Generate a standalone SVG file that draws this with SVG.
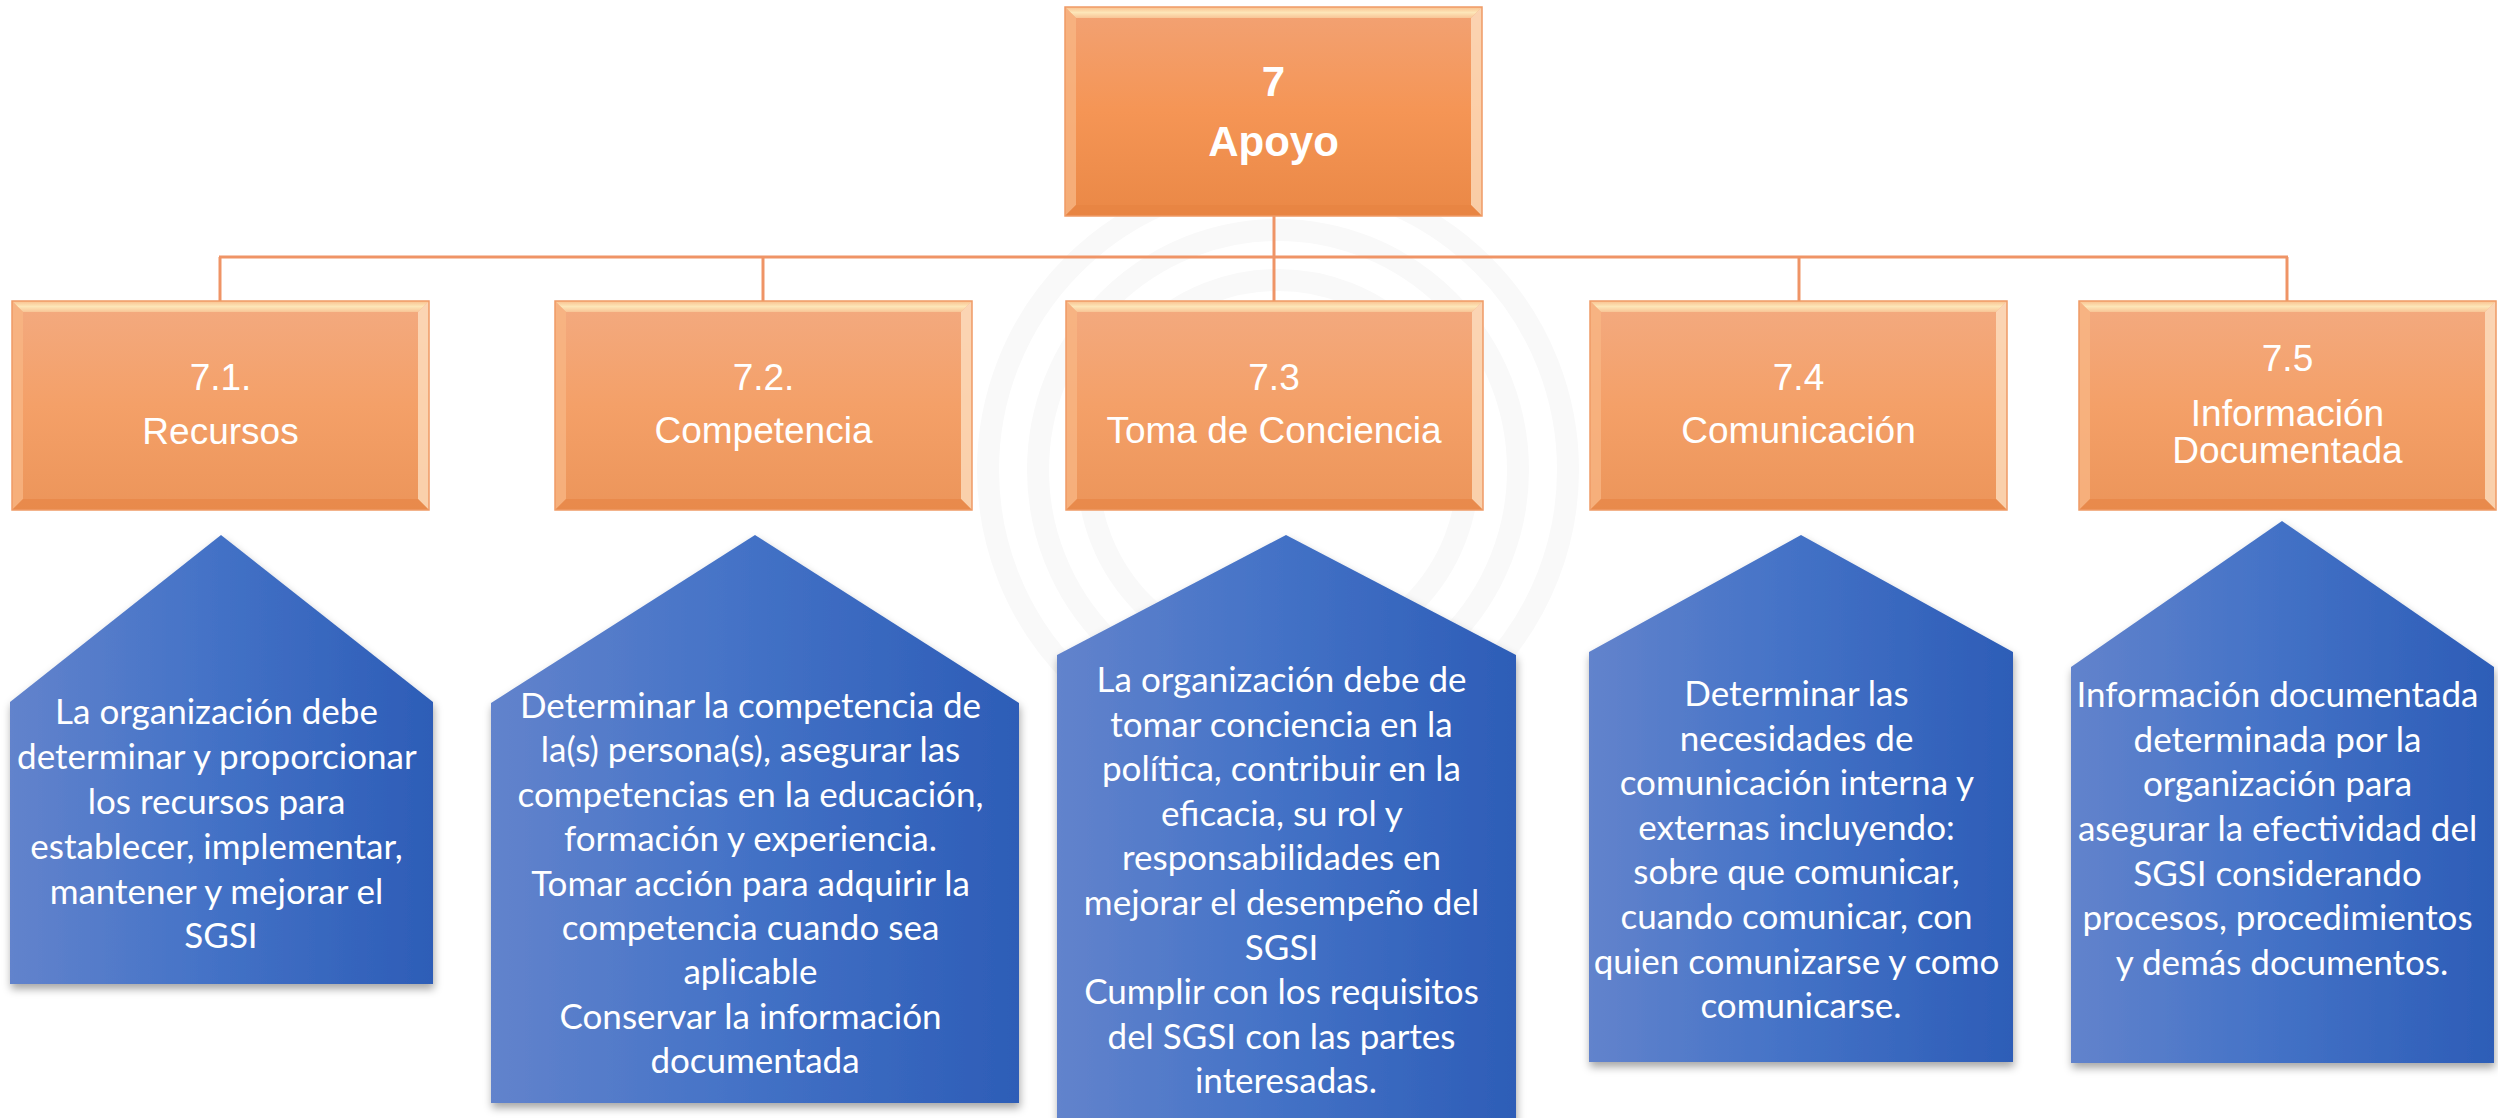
<svg xmlns="http://www.w3.org/2000/svg" width="2498" height="1118" viewBox="0 0 2498 1118">
<style>
.lbl{font-family:"Liberation Sans",Arial,sans-serif;font-size:37px;fill:#ffffff;text-anchor:middle}
.top{font-family:"Liberation Sans",Arial,sans-serif;font-size:42px;font-weight:bold;fill:#ffffff;text-anchor:middle}
.desc{font-family:Lato,"Open Sans",sans-serif;font-size:35px;fill:#ffffff;text-anchor:middle}
.conn{stroke:#ef9466;stroke-width:3;fill:none}
.wm{fill:none;stroke:#f9f9f9;stroke-width:22}
.pent{fill:url(#blueGrad);filter:url(#shadow)}
</style>
<defs>
<linearGradient id="orGrad" x1="0" y1="0" x2="0" y2="1">
<stop offset="0" stop-color="#f3aa80"/>
<stop offset="0.5" stop-color="#f4a068"/>
<stop offset="1" stop-color="#ec955a"/>
</linearGradient>
<linearGradient id="orGradTop" x1="0" y1="0" x2="0" y2="1">
<stop offset="0" stop-color="#f2a274"/>
<stop offset="0.5" stop-color="#f59555"/>
<stop offset="1" stop-color="#ea8846"/>
</linearGradient>
<linearGradient id="bevTop" x1="0" y1="0" x2="0" y2="1">
<stop offset="0" stop-color="#f9c08e"/>
<stop offset="0.5" stop-color="#fde6b8"/>
<stop offset="1" stop-color="#f8c596"/>
</linearGradient>
<linearGradient id="blueGrad" x1="0" y1="0" x2="1" y2="0">
<stop offset="0" stop-color="#6283cc"/>
<stop offset="0.45" stop-color="#4573c7"/>
<stop offset="1" stop-color="#2d5db7"/>
</linearGradient>
<filter id="shadow" x="-10%" y="-10%" width="120%" height="125%">
<feDropShadow dx="1" dy="5" stdDeviation="4" flood-color="#000000" flood-opacity="0.35"/>
</filter>
<symbol id="bevel" viewBox="0 0 417 209" width="417" height="209" overflow="visible">
<polygon points="0,0 417,0 406,11 11,11" fill="url(#bevTop)"/>
<polygon points="0,0 11,11 11,198 0,209" fill="#f8b583" opacity="0.8"/>
<polygon points="417,0 417,209 406,198 406,11" fill="#fde3c6" opacity="0.75"/>
<polygon points="0,209 11,198 406,198 417,209" fill="#e5823f" opacity="0.55"/>
<rect x="0" y="0" width="417" height="209" fill="none" stroke="#ef9a66" stroke-width="1.5"/>
</symbol>
</defs>
<rect width="2498" height="1118" fill="#ffffff"/>
<g id="watermark">
<circle class="wm" cx="1278" cy="470" r="290"/>
<circle class="wm" cx="1278" cy="470" r="240"/>
<circle class="wm" cx="1278" cy="470" r="190"/>
</g>
<g id="connectors">
<line class="conn" x1="1274" y1="216" x2="1274" y2="257"/>
<line class="conn" x1="219" y1="257" x2="2288" y2="257"/>
<line class="conn" x1="220" y1="257" x2="220" y2="301"/>
<line class="conn" x1="763" y1="257" x2="763" y2="301"/>
<line class="conn" x1="1274" y1="257" x2="1274" y2="301"/>
<line class="conn" x1="1799" y1="257" x2="1799" y2="301"/>
<line class="conn" x1="2287" y1="257" x2="2287" y2="301"/>
</g>
<g id="node-7">
<rect x="1065" y="7" width="417" height="209" fill="url(#orGradTop)"/>
<use href="#bevel" x="1065" y="7"/>
<text class="top" x="1273.5" y="96">7</text>
<text class="top" x="1273.5" y="156">Apoyo</text>
</g>
<g id="node-7-1">
<rect x="12" y="301" width="417" height="209" fill="url(#orGrad)"/>
<use href="#bevel" x="12" y="301"/>
<text class="lbl" x="220.5" y="390">7.1.</text>
<text class="lbl" x="220.5" y="444">Recursos</text>
</g>
<g id="node-7-2">
<rect x="555" y="301" width="417" height="209" fill="url(#orGrad)"/>
<use href="#bevel" x="555" y="301"/>
<text class="lbl" x="763.5" y="390">7.2.</text>
<text class="lbl" x="763.5" y="443">Competencia</text>
</g>
<g id="node-7-3">
<rect x="1066" y="301" width="417" height="209" fill="url(#orGrad)"/>
<use href="#bevel" x="1066" y="301"/>
<text class="lbl" x="1274" y="390">7.3</text>
<text class="lbl" x="1274" y="443">Toma de Conciencia</text>
</g>
<g id="node-7-4">
<rect x="1590" y="301" width="417" height="209" fill="url(#orGrad)"/>
<use href="#bevel" x="1590" y="301"/>
<text class="lbl" x="1798.5" y="390">7.4</text>
<text class="lbl" x="1798.5" y="443">Comunicación</text>
</g>
<g id="node-7-5">
<rect x="2079" y="301" width="417" height="209" fill="url(#orGrad)"/>
<use href="#bevel" x="2079" y="301"/>
<text class="lbl" x="2287.5" y="371">7.5</text>
<text class="lbl" x="2287.5" y="426">Información</text>
<text class="lbl" x="2287.5" y="463">Documentada</text>
</g>
<g id="desc-7-1">
<polygon class="pent" points="221,535 433,702 433,984 10,984 10,702"/>
<text class="desc">
<tspan x="221" y="724">La organización debe</tspan>
<tspan x="221" y="769">determinar y proporcionar</tspan>
<tspan x="221" y="814">los recursos para</tspan>
<tspan x="221" y="859">establecer, implementar,</tspan>
<tspan x="221" y="904">mantener y mejorar el</tspan>
<tspan x="221" y="948">SGSI</tspan>
</text>
</g>
<g id="desc-7-2">
<polygon class="pent" points="755,535 1019,703 1019,1103 491,1103 491,703"/>
<text class="desc">
<tspan x="755" y="718">Determinar la competencia de</tspan>
<tspan x="755" y="762">la(s) persona(s), asegurar las</tspan>
<tspan x="755" y="807">competencias en la educación,</tspan>
<tspan x="755" y="851">formación y experiencia.</tspan>
<tspan x="755" y="896">Tomar acción para adquirir la</tspan>
<tspan x="755" y="940">competencia cuando sea</tspan>
<tspan x="755" y="984">aplicable</tspan>
<tspan x="755" y="1029">Conservar la información</tspan>
<tspan x="755" y="1073">documentada</tspan>
</text>
</g>
<g id="desc-7-3">
<polygon class="pent" points="1286,535 1516,655 1516,1140 1057,1140 1057,655"/>
<text class="desc">
<tspan x="1286" y="692">La organización debe de</tspan>
<tspan x="1286" y="737">tomar conciencia en la</tspan>
<tspan x="1286" y="781">política, contribuir en la</tspan>
<tspan x="1286" y="826">eficacia, su rol y</tspan>
<tspan x="1286" y="870">responsabilidades en</tspan>
<tspan x="1286" y="915">mejorar el desempeño del</tspan>
<tspan x="1286" y="960">SGSI</tspan>
<tspan x="1286" y="1004">Cumplir con los requisitos</tspan>
<tspan x="1286" y="1049">del SGSI con las partes</tspan>
<tspan x="1286" y="1093">interesadas.</tspan>
</text>
</g>
<g id="desc-7-4">
<polygon class="pent" points="1801,535 2013,652 2013,1062 1589,1062 1589,652"/>
<text class="desc">
<tspan x="1801" y="706">Determinar las</tspan>
<tspan x="1801" y="751">necesidades de</tspan>
<tspan x="1801" y="795">comunicación interna y</tspan>
<tspan x="1801" y="840">externas incluyendo:</tspan>
<tspan x="1801" y="884">sobre que comunicar,</tspan>
<tspan x="1801" y="929">cuando comunicar, con</tspan>
<tspan x="1801" y="974">quien comunizarse y como</tspan>
<tspan x="1801" y="1018">comunicarse.</tspan>
</text>
</g>
<g id="desc-7-5">
<polygon class="pent" points="2282,521 2494,667 2494,1063 2071,1063 2071,667"/>
<text class="desc">
<tspan x="2282" y="707">Información documentada</tspan>
<tspan x="2282" y="752">determinada por la</tspan>
<tspan x="2282" y="796">organización para</tspan>
<tspan x="2282" y="841">asegurar la efectividad del</tspan>
<tspan x="2282" y="886">SGSI considerando</tspan>
<tspan x="2282" y="930">procesos, procedimientos</tspan>
<tspan x="2282" y="975">y demás documentos.</tspan>
</text>
</g>
</svg>
